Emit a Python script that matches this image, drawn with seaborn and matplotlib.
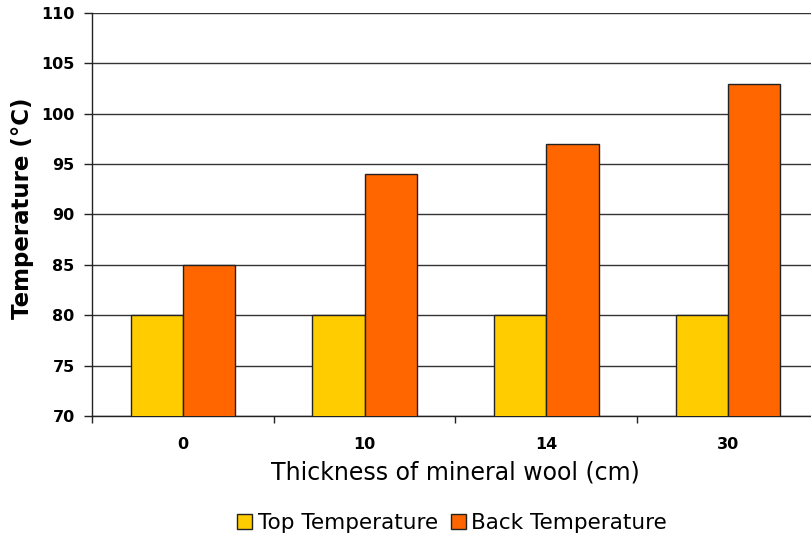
import matplotlib
matplotlib.use("Agg")
import matplotlib.pyplot as plt
import seaborn as sns
import pandas as pd
import numpy as np

thickness = ["0", "10", "14", "30"]
top_temp = [80, 80, 80, 80]
back_temp = [85, 94, 97, 103]
series_names = ["Top Temperature", "Back Temperature"]
colors = ["#FFCC00", "#FF6600"]
y_ticks = [70, 75, 80, 85, 90, 95, 100, 105, 110]

df = pd.DataFrame({
    "thickness": thickness * 2,
    "temp": top_temp + back_temp,
    "series": [series_names[0]] * len(thickness) + [series_names[1]] * len(thickness),
})

sns.set_style("white")
plt.rcParams["font.family"] = ["DejaVu Sans"]
plt.rcParams["text.color"] = "black"
plt.rcParams["axes.labelcolor"] = "black"
plt.rcParams["xtick.color"] = "black"
plt.rcParams["ytick.color"] = "black"

fig = plt.figure(figsize=(8.12, 5.38), dpi=100)
W, H = 812, 538
left, right, top, bottom = 92, 819, 13, 416
ax = fig.add_axes([left / W, 1 - bottom / H, (right - left) / W, (bottom - top) / H])

sns.barplot(data=df, x="thickness", y="temp", hue="series", order=thickness,
            hue_order=series_names, palette=colors, width=0.575, dodge=True,
            edgecolor="#222222", linewidth=1.0, saturation=1, ax=ax, zorder=3)

ax.set_ylim(70, 110)
ax.set_xlim(-0.5, 3.5)
ax.set_yticks(y_ticks)
ax.set_yticklabels([str(v) for v in y_ticks], fontweight="bold", fontsize=11.5)
ax.set_xticks(range(len(thickness)))
ax.set_xticklabels(thickness, fontweight="bold", fontsize=11.5)
ax.set_xticks(np.arange(-0.5, 3.6, 1.0), minor=True)
ax.tick_params(axis="x", which="major", length=0, pad=15)
ax.tick_params(axis="x", which="minor", bottom=True, length=5, width=1,
               color="#222222", direction="out")
ax.tick_params(axis="y", which="major", left=True, length=6, width=1,
               color="#222222", direction="out", pad=6.5)

ax.yaxis.grid(True, color="#333333", linewidth=1.0, zorder=0)
ax.set_axisbelow(True)
for s in ["top", "right"]:
    ax.spines[s].set_visible(False)
for s in ["left", "bottom"]:
    ax.spines[s].set_color("#222222")
    ax.spines[s].set_linewidth(1.0)

ax.set_xlabel("Thickness of mineral wool (cm)", fontsize=17, labelpad=6)
ax.set_ylabel("Temperature (°C)", fontsize=16.5, fontweight="bold")
ax.yaxis.set_label_coords((34 - left) / (right - left), (bottom - 208) / (bottom - top))

handles, labels = ax.get_legend_handles_labels()
ax.legend_.remove()
fig.legend(handles, labels, loc="center", bbox_to_anchor=(452 / W, 1 - 523 / H),
           ncol=2, frameon=False, fontsize=15.5, handlelength=0.7, handleheight=0.7,
           handletextpad=0.25, columnspacing=0.6)

fig.savefig("out.png", dpi=100)
